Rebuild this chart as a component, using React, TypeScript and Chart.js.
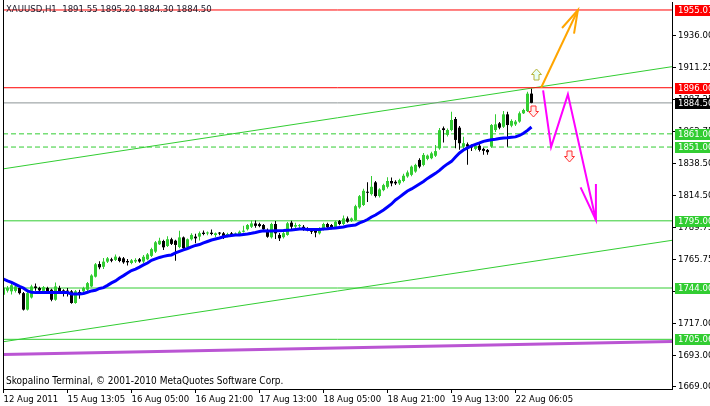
import React, { useEffect, useRef } from "react";
import { Chart, registerables } from "chart.js";
Chart.register(...registerables);

// ---- data (XAUUSD, H1) ----
const opens = [
  1738.9, 1742.0, 1741.5, 1741.8, 1744.0, 1740.1, 1727.6, 1736.8, 1745.2, 1744.0,
  1741.8, 1744.0, 1742.7, 1735.1, 1744.0, 1742.2, 1742.0, 1741.5, 1732.6, 1741.0,
  1741.5, 1742.7, 1745.2, 1752.6, 1762.2, 1760.1, 1764.0, 1765.8, 1765.3, 1767.0,
  1766.5, 1764.5, 1763.0, 1764.1, 1765.8, 1764.1, 1765.8, 1768.4, 1771.6, 1777.2,
  1779.7, 1775.9, 1781.0, 1779.9, 1775.1, 1782.4, 1774.9, 1781.0, 1783.0, 1783.0,
  1786.0, 1785.4, 1786.0, 1784.2, 1785.8, 1785.5, 1783.5, 1785.5, 1784.6, 1785.0,
  1786.7, 1788.6, 1790.5, 1793.0, 1792.5, 1791.8, 1788.1, 1782.5, 1792.6, 1784.3,
  1782.6, 1784.3, 1793.6, 1790.6, 1791.0, 1790.5, 1789.3, 1788.8, 1788.1, 1785.5,
  1788.6, 1792.6, 1791.8, 1790.1, 1794.8, 1792.6, 1796.8, 1795.0, 1795.6, 1805.2,
  1807.0, 1817.0, 1815.3, 1824.2, 1813.8, 1818.3, 1820.8, 1825.2, 1824.6, 1823.4,
  1825.2, 1828.7, 1829.9, 1832.4, 1841.2, 1837.4, 1842.0, 1842.5, 1844.4, 1850.0,
  1865.2, 1860.2, 1863.9, 1872.3, 1865.7, 1851.3, 1853.1, 1852.0, 1849.6, 1852.0,
  1849.6, 1848.8, 1851.3, 1863.9, 1869.0, 1866.4, 1875.8, 1867.2, 1868.2, 1870.3,
  1876.6, 1878.3, 1891.55,
];
const highs = [
  1745.7, 1745.5, 1748.0, 1747.0, 1745.0, 1741.0, 1741.0, 1746.5, 1747.5, 1745.0,
  1745.5, 1745.0, 1743.5, 1748.1, 1745.7, 1743.0, 1744.0, 1742.5, 1742.5, 1742.7,
  1745.0, 1748.5, 1754.5, 1763.0, 1764.3, 1766.8, 1767.5, 1767.0, 1769.5, 1768.0,
  1767.5, 1766.0, 1766.0, 1766.5, 1766.8, 1769.0, 1770.5, 1774.6, 1779.6, 1782.1,
  1780.6, 1783.3, 1782.1, 1780.6, 1787.4, 1783.1, 1781.6, 1785.6, 1785.1, 1786.9,
  1787.7, 1786.9, 1788.4, 1786.1, 1786.6, 1786.6, 1785.9, 1786.6, 1786.1, 1787.6,
  1791.3, 1792.6, 1795.3, 1795.3, 1793.6, 1792.6, 1789.1, 1793.6, 1794.9, 1785.8,
  1786.6, 1794.1, 1795.1, 1793.6, 1792.6, 1791.8, 1790.1, 1789.6, 1789.1, 1790.1,
  1793.6, 1793.6, 1792.6, 1795.1, 1795.6, 1799.0, 1798.3, 1797.6, 1807.1, 1814.6,
  1819.3, 1824.3, 1829.1, 1825.2, 1819.7, 1823.2, 1828.1, 1827.8, 1825.7, 1826.9,
  1830.7, 1833.2, 1836.9, 1838.4, 1842.4, 1846.4, 1845.4, 1847.4, 1852.5, 1865.4,
  1866.6, 1865.0, 1877.8, 1873.8, 1867.0, 1858.9, 1854.5, 1853.0, 1853.0, 1853.9,
  1850.5, 1849.5, 1868.5, 1875.8, 1870.0, 1878.3, 1877.8, 1872.0, 1871.5, 1878.0,
  1880.0, 1893.0, 1895.20,
];
const lows = [
  1735.9, 1740.5, 1739.0, 1740.5, 1739.0, 1727.0, 1727.0, 1736.0, 1742.0, 1741.0,
  1741.0, 1740.5, 1734.0, 1734.3, 1740.0, 1737.5, 1737.5, 1732.0, 1732.0, 1735.9,
  1740.5, 1741.5, 1744.5, 1752.0, 1758.3, 1758.5, 1763.0, 1763.5, 1764.5, 1763.5,
  1762.5, 1761.0, 1762.0, 1763.0, 1763.1, 1763.0, 1765.0, 1767.6, 1770.6, 1776.6,
  1772.9, 1775.1, 1776.6, 1764.6, 1774.1, 1773.4, 1774.1, 1780.1, 1777.9, 1780.1,
  1784.1, 1784.1, 1784.1, 1782.6, 1784.1, 1781.2, 1782.6, 1783.4, 1784.1, 1784.2,
  1786.1, 1787.6, 1789.6, 1789.7, 1790.1, 1787.6, 1782.1, 1781.6, 1781.2, 1779.7,
  1781.6, 1783.6, 1788.4, 1789.6, 1789.6, 1787.4, 1787.1, 1785.0, 1782.5, 1784.6,
  1787.6, 1788.4, 1788.6, 1789.6, 1791.6, 1791.6, 1793.6, 1794.1, 1795.1, 1804.1,
  1806.2, 1809.3, 1814.2, 1812.7, 1812.7, 1817.5, 1819.6, 1821.3, 1822.2, 1822.2,
  1824.2, 1827.7, 1828.9, 1831.4, 1834.9, 1836.4, 1840.9, 1841.7, 1843.4, 1848.9,
  1854.4, 1859.0, 1863.0, 1850.1, 1849.0, 1848.8, 1837.5, 1848.0, 1848.5, 1847.6,
  1845.1, 1845.1, 1850.5, 1862.4, 1864.5, 1865.5, 1851.3, 1866.0, 1867.0, 1869.5,
  1876.0, 1877.5, 1884.30,
];
const closes = [
  1744.2, 1744.0, 1746.1, 1745.2, 1740.1, 1727.6, 1740.1, 1745.2, 1744.0, 1742.2,
  1744.6, 1741.5, 1735.1, 1745.2, 1741.0, 1741.0, 1741.2, 1732.6, 1741.5, 1739.5,
  1744.0, 1747.7, 1753.5, 1762.0, 1759.7, 1764.0, 1766.5, 1764.7, 1767.8, 1764.5,
  1763.5, 1763.5, 1765.0, 1765.3, 1764.1, 1767.7, 1769.5, 1773.5, 1778.7, 1779.9,
  1774.9, 1781.0, 1777.5, 1776.7, 1782.4, 1774.2, 1781.0, 1784.3, 1781.7, 1785.6,
  1785.0, 1785.8, 1785.0, 1785.5, 1785.3, 1783.5, 1785.0, 1784.2, 1785.2, 1786.7,
  1787.5, 1791.8, 1793.0, 1791.2, 1791.0, 1788.6, 1782.9, 1792.6, 1785.5, 1781.7,
  1785.6, 1793.1, 1790.5, 1791.8, 1791.4, 1788.6, 1788.1, 1786.7, 1786.0, 1789.3,
  1792.6, 1790.1, 1789.3, 1794.3, 1792.6, 1796.8, 1794.3, 1796.8, 1806.1, 1813.7,
  1817.8, 1816.3, 1820.8, 1813.8, 1818.8, 1822.1, 1825.2, 1823.4, 1823.4, 1825.9,
  1829.2, 1831.7, 1836.1, 1837.4, 1836.1, 1845.0, 1844.5, 1846.2, 1847.9, 1863.8,
  1863.9, 1863.9, 1871.5, 1856.4, 1853.9, 1853.9, 1851.3, 1850.6, 1852.0, 1848.8,
  1848.1, 1847.1, 1867.7, 1868.2, 1865.7, 1875.8, 1867.7, 1870.8, 1870.3, 1876.6,
  1879.1, 1891.5, 1884.50,
];
const maValues = [
  1750.7, 1749.4, 1748.2, 1746.7, 1745.2, 1743.9, 1741.8, 1740.7, 1740.5, 1740.5,
  1740.5, 1740.5, 1740.5, 1740.5, 1740.5, 1740.5, 1740.5, 1739.5, 1739.5, 1739.5,
  1739.9, 1740.8, 1741.8, 1742.3, 1743.7, 1744.3, 1746.0, 1747.9, 1749.4, 1751.6,
  1753.4, 1755.4, 1757.3, 1758.4, 1759.9, 1761.5, 1763.0, 1765.0, 1766.1, 1767.2,
  1768.0, 1768.7, 1769.1, 1770.6, 1771.8, 1772.9, 1774.0, 1775.2, 1776.3, 1777.0,
  1778.2, 1779.3, 1780.4, 1781.2, 1782.0, 1782.9, 1783.5, 1783.8, 1784.2, 1784.2,
  1784.6, 1785.0, 1785.5, 1786.1, 1786.9, 1787.5, 1787.2, 1787.2, 1787.5, 1787.5,
  1787.6, 1787.8, 1788.0, 1788.4, 1788.8, 1788.8, 1788.5, 1788.5, 1788.5, 1788.5,
  1788.8, 1789.0, 1789.3, 1789.5, 1789.9, 1790.3, 1791.0, 1791.4, 1791.8, 1793.4,
  1794.5, 1796.0, 1797.9, 1799.4, 1801.3, 1803.2, 1805.5, 1807.8, 1810.8, 1813.0,
  1815.3, 1817.6, 1819.2, 1821.1, 1823.0, 1824.9, 1827.2, 1829.1, 1831.0, 1833.3,
  1835.9, 1838.2, 1840.1, 1843.4, 1846.5, 1848.7, 1850.4, 1851.9, 1853.0, 1854.1,
  1855.3, 1856.0, 1856.6, 1856.9, 1857.5, 1857.9, 1858.1, 1858.4, 1858.7, 1859.8,
  1861.5, 1863.6, 1866.2,
];

const timeLabels = [
  "12 Aug 2011", "15 Aug 13:05", "16 Aug 05:00", "16 Aug 21:00", "17 Aug 13:00",
  "18 Aug 05:00", "18 Aug 21:00", "19 Aug 13:00", "22 Aug 06:05",
];
const timeLabelBars = [0, 16, 32, 48, 64, 80, 96, 112, 128];
const priceTicks = [1669, 1693, 1717, 1741.25, 1765.75, 1789.75, 1814.5, 1838.5, 1862.75, 1887.25, 1911.25, 1936];

const redLevels = [1955.01, 1896.0];
const greenSolidLevels = [1795.0, 1744.0, 1705.06];
const greenDashedLevels = [1861.0, 1851.0];
const bidLevel = 1884.5;

const upperChannel = [{ bar: -0.125, price: 1834.4 }, { bar: 167.125, price: 1912.0 }];
const lowerChannel = [{ bar: -0.125, price: 1703.2 }, { bar: 167.125, price: 1780.2 }];
const purpleLine = [{ bar: -0.125, price: 1693.5 }, { bar: 167.125, price: 1703.4 }];
const orangePath = [{ bar: 134.4, price: 1896.0 }, { bar: 143.6, price: 1955.0 }];
const magentaPath = [
  { bar: 134.9, price: 1894.0 },
  { bar: 136.9, price: 1851.0 },
  { bar: 141.1, price: 1891.0 },
  { bar: 148.1, price: 1795.6 },
];
const upSignals = [{ bar: 133.1, price: 1906.2 }];
const downSignals = [{ bar: 132.4, price: 1878.7 }, { bar: 141.4, price: 1844.2 }];

const titleText = "XAUUSD,H1  1891.55 1895.20 1884.30 1884.50";
const footerText = "Skopalino Terminal, \u00A9 2001-2010 MetaQuotes Software Corp.";

const X_MIN = -0.125;
const X_MAX = 167.125;
const Y_MIN = 1667.35;
const Y_MAX = 1961.08;

const FONT_FAMILY = '"DejaVu Sans Condensed", "DejaVu Sans", sans-serif';
const FONT_SIZE = 9.5;
const BULL = "#32CD32";
const BEAR = "#000000";
const GREEN_LINE = "#32CD32";

export default function App() {
  const ref = useRef<HTMLCanvasElement | null>(null);

  useEffect(() => {
    const canvas = ref.current;
    if (!canvas) return;

    const levelLine = (v: number, color: string, dash: number[] = [], width = 1) => ({
      type: "line" as const,
      data: [{ x: X_MIN, y: v }, { x: X_MAX, y: v }],
      borderColor: color,
      borderWidth: width,
      borderDash: dash,
      pointRadius: 0,
      order: 20,
    });
    const pathLine = (pts: { bar: number; price: number }[], color: string, width: number, order: number) => ({
      type: "line" as const,
      data: pts.map((p) => ({ x: p.bar, y: p.price })),
      borderColor: color,
      borderWidth: width,
      pointRadius: 0,
      order,
    });

    const isBull = (i: number) => closes[i] >= opens[i];

    const datasets: any[] = [
      ...redLevels.map((v) => levelLine(v, "#FF0000")),
      levelLine(bidLevel, "#8C9496"),
      ...greenDashedLevels.map((v) => levelLine(v, GREEN_LINE, [5, 3])),
      ...greenSolidLevels.map((v) => levelLine(v, GREEN_LINE)),
      pathLine(upperChannel, GREEN_LINE, 1, 20),
      pathLine(lowerChannel, GREEN_LINE, 1, 20),
      pathLine(purpleLine, "#BA55D3", 3, 20),
      {
        type: "bar",
        data: highs.map((h, i) => ({ x: i, y: [lows[i], h] })),
        backgroundColor: highs.map((_, i) => (isBull(i) ? BULL : BEAR)),
        barThickness: 1,
        grouped: false,
        borderWidth: 0,
        inflateAmount: 0,
        minBarLength: 1,
        order: 6,
      },
      {
        type: "bar",
        data: opens.map((o, i) => ({ x: i, y: [o, closes[i]] })),
        backgroundColor: opens.map((_, i) => (isBull(i) ? BULL : BEAR)),
        barThickness: 3,
        grouped: false,
        borderWidth: 0,
        inflateAmount: 0,
        minBarLength: 1,
        order: 5,
      },
      {
        type: "line",
        data: maValues.map((v, i) => ({ x: i, y: v })),
        borderColor: "#0000FF",
        borderWidth: 3,
        pointRadius: 0,
        order: 4,
      },
      pathLine(orangePath, "#FFA500", 2, 2),
      pathLine(magentaPath, "#FF00FF", 2, 2),
    ];

    const font = { family: FONT_FAMILY, size: FONT_SIZE };

    const decor = {
      id: "mt4decor",
      afterDatasetsDraw(chart: any) {
        const ctx = chart.ctx as CanvasRenderingContext2D;
        const xs = chart.scales.x;
        const ys = chart.scales.y;
        const px = (b: number) => xs.getPixelForValue(b);
        const py = (p: number) => ys.getPixelForValue(p);

        const head = (
          from: { bar: number; price: number },
          to: { bar: number; price: number },
          color: string,
          len: number,
          spread: number
        ) => {
          const x1 = px(from.bar), y1 = py(from.price), x2 = px(to.bar), y2 = py(to.price);
          const ang = Math.atan2(y2 - y1, x2 - x1);
          ctx.save();
          ctx.strokeStyle = color;
          ctx.lineWidth = 2;
          ctx.beginPath();
          ctx.moveTo(x2 - len * Math.cos(ang - spread), y2 - len * Math.sin(ang - spread));
          ctx.lineTo(x2, y2);
          ctx.lineTo(x2 - len * Math.cos(ang + spread), y2 - len * Math.sin(ang + spread));
          ctx.stroke();
          ctx.restore();
        };
        head(orangePath[0], orangePath[1], "#FFA500", 24, 0.28);
        head(magentaPath[2], magentaPath[3], "#FF00FF", 36, 0.22);

        const arrow = (cx: number, cy: number, up: boolean, stroke: string, fill: string) => {
          const s = up ? -1 : 1;
          const h = 5.5;
          ctx.save();
          ctx.beginPath();
          ctx.moveTo(cx - 2.5, cy - s * h);
          ctx.lineTo(cx + 2.5, cy - s * h);
          ctx.lineTo(cx + 2.5, cy);
          ctx.lineTo(cx + 5, cy);
          ctx.lineTo(cx, cy + s * h);
          ctx.lineTo(cx - 5, cy);
          ctx.lineTo(cx - 2.5, cy);
          ctx.closePath();
          ctx.fillStyle = fill;
          ctx.fill();
          ctx.strokeStyle = stroke;
          ctx.lineWidth = 1;
          ctx.stroke();
          ctx.restore();
        };
        upSignals.forEach((a) => arrow(Math.round(px(a.bar)) + 0.5, Math.round(py(a.price)) + 0.5, true, "#B5B53A", "#E8FFF8"));
        downSignals.forEach((a) => arrow(Math.round(px(a.bar)) + 0.5, Math.round(py(a.price)) + 0.5, false, "#FF3030", "#FFF0F0"));
      },
      afterDraw(chart: any) {
        const ctx = chart.ctx as CanvasRenderingContext2D;
        const area = chart.chartArea;
        const ys = chart.scales.y;
        ctx.save();
        // left frame line
        ctx.strokeStyle = "#000";
        ctx.lineWidth = 1;
        ctx.beginPath();
        ctx.moveTo(area.left + 0.5, 0);
        ctx.lineTo(area.left + 0.5, area.bottom);
        ctx.stroke();

        ctx.font = `${FONT_SIZE}px ${FONT_FAMILY}`;
        ctx.textBaseline = "middle";
        ctx.textAlign = "left";
        // price tags on the right axis
        const tag = (v: number, bg: string, fg: string) => {
          const y = Math.round(ys.getPixelForValue(v));
          ctx.fillStyle = bg;
          ctx.fillRect(area.right + 3, y - 5, 40, 11);
          ctx.fillStyle = fg;
          ctx.fillText(v.toFixed(2), area.right + 6, y + 0.5);
        };
        redLevels.forEach((v) => tag(v, "#FF0000", "#FFFFFF"));
        greenDashedLevels.forEach((v) => tag(v, GREEN_LINE, "#FFFFFF"));
        greenSolidLevels.forEach((v) => tag(v, GREEN_LINE, "#FFFFFF"));
        tag(bidLevel, "#000000", "#FFFFFF");

        // title and footer
        ctx.fillStyle = "#1a1a2a";
        ctx.fillText(titleText, area.left + 3, 10);
        ctx.fillStyle = "#000";
        ctx.font = `10px ${FONT_FAMILY}`;
        ctx.fillText(footerText, area.left + 3, 381);
        ctx.restore();
      },
    };

    const chart = new Chart(canvas, {
      type: "bar",
      data: { datasets },
      options: {
        animation: false,
        responsive: false,
        devicePixelRatio: 1,
        layout: { padding: { left: 3, top: 2, right: 0, bottom: 0 } },
        plugins: { legend: { display: false }, tooltip: { enabled: false }, title: { display: false } },
        elements: { line: { tension: 0 } },
        scales: {
          x: {
            type: "linear",
            min: X_MIN,
            max: X_MAX,
            offset: false,
            afterBuildTicks: (s: any) => {
              s.ticks = timeLabelBars.map((v) => ({ value: v }));
            },
            afterFit: (s: any) => {
              s.height = 17;
              s.paddingLeft = 0;
              s.paddingRight = 0;
            },
            grid: { display: true, drawOnChartArea: false, drawTicks: true, tickLength: 4, color: "#000", offset: false },
            border: { display: true, color: "#000", width: 1 },
            ticks: {
              autoSkip: false,
              maxRotation: 0,
              minRotation: 0,
              align: "start",
              padding: 1,
              color: "#000",
              font,
              callback: (_v: any, i: number) => timeLabels[i] ?? "",
            },
          },
          y: {
            type: "linear",
            position: "right",
            min: Y_MIN,
            max: Y_MAX,
            afterBuildTicks: (s: any) => {
              s.ticks = priceTicks.map((v) => ({ value: v }));
            },
            afterFit: (s: any) => {
              s.width = 38;
              s.paddingTop = 0;
              s.paddingBottom = 0;
            },
            grid: { display: true, drawOnChartArea: false, drawTicks: true, tickLength: 4, color: "#000" },
            border: { display: true, color: "#000", width: 1 },
            ticks: {
              color: "#000",
              font,
              padding: 2,
              crossAlign: "near",
              callback: (v: any) => Number(v).toFixed(2),
            },
          },
        },
      } as any,
      plugins: [decor],
    });

    return () => chart.destroy();
  }, []);

  return (
    <div style={{ position: "absolute", left: 0, top: 0, width: 710, height: 406, background: "#fff" }}>
      <canvas ref={ref} width={710} height={406} style={{ display: "block", width: 710, height: 406 }} />
    </div>
  );
}
